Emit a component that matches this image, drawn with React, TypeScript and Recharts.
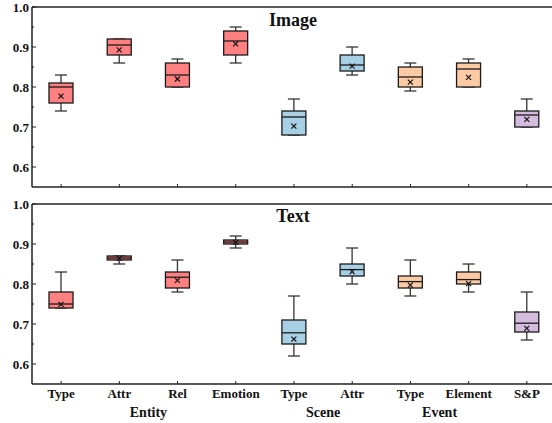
import React from 'react'
import { ComposedChart, Bar, XAxis, YAxis, ReferenceLine } from 'recharts'

const categories = ['Type', 'Attr', 'Rel', 'Emotion', 'Type', 'Attr', 'Type', 'Element', 'S&P']
const groupOf = ['Entity', 'Entity', 'Entity', 'Entity', 'Scene', 'Scene', 'Event', 'Event', 'SP']

// Image panel stats
const imgMin = [0.74, 0.86, 0.8, 0.86, 0.68, 0.83, 0.79, 0.8, 0.7]
const imgQ1 = [0.76, 0.88, 0.8, 0.88, 0.68, 0.84, 0.8, 0.8, 0.7]
const imgMed = [0.8, 0.905, 0.83, 0.915, 0.725, 0.855, 0.825, 0.845, 0.73]
const imgQ3 = [0.81, 0.92, 0.86, 0.94, 0.74, 0.88, 0.85, 0.86, 0.74]
const imgMax = [0.83, 0.92, 0.87, 0.95, 0.77, 0.9, 0.86, 0.87, 0.77]
const imgMean = [0.777, 0.893, 0.82, 0.908, 0.702, 0.852, 0.812, 0.824, 0.719]

// Text panel stats
const txtMin = [0.74, 0.85, 0.78, 0.89, 0.62, 0.8, 0.77, 0.78, 0.66]
const txtQ1 = [0.74, 0.86, 0.79, 0.9, 0.65, 0.82, 0.79, 0.8, 0.68]
const txtMed = [0.75, 0.865, 0.817, 0.905, 0.678, 0.836, 0.806, 0.811, 0.702]
const txtQ3 = [0.78, 0.87, 0.83, 0.91, 0.71, 0.85, 0.82, 0.83, 0.73]
const txtMax = [0.83, 0.87, 0.86, 0.92, 0.77, 0.89, 0.86, 0.85, 0.78]
const txtMean = [0.749, 0.864, 0.809, 0.904, 0.662, 0.831, 0.797, 0.801, 0.689]

const yTicks = [0.6, 0.65, 0.7, 0.75, 0.8, 0.85, 0.9, 0.95, 1.0]

const groupColors: Record<string, string> = {
  Entity: '#FF8080',
  Scene: '#A7D0E5',
  Event: '#FCCBA5',
  SP: '#D3BCDE',
}
const groupLabels = [
  { name: 'Entity', from: 0, to: 3 },
  { name: 'Scene', from: 4, to: 5 },
  { name: 'Event', from: 6, to: 7 },
]

const FONT = '"Liberation Serif", "Times New Roman", serif'
const AXIS = '#222'
const PLOT_LEFT = 32
const PLOT_W = 524
const BAND = PLOT_W / categories.length

const build = (mn: number[], q1: number[], md: number[], q3: number[], mx: number[], mean: number[]) =>
  categories.map((c, i) => ({
    key: `c${i}`,
    name: c,
    group: groupOf[i],
    min: mn[i],
    q1: q1[i],
    med: md[i],
    q3: q3[i],
    max: mx[i],
    mean: mean[i],
  }))

const imageData = build(imgMin, imgQ1, imgMed, imgQ3, imgMax, imgMean)
const textData = build(txtMin, txtQ1, txtMed, txtQ3, txtMax, txtMean)

const BoxShape = (props: any) => {
  const { x, y, width, height, payload } = props
  const top = Math.min(y, y + height)
  const h = Math.abs(height)
  const { min, q1, med, q3, max, mean, group } = payload
  const py = (v: number) => top + ((max - v) / (max - min)) * h
  const cx = x + width / 2
  const bw = 12
  const cw = 6
  const m = py(mean)
  return (
    <g>
      <line x1={cx} x2={cx} y1={py(max)} y2={py(q3)} stroke="#333" strokeWidth={1.3} />
      <line x1={cx} x2={cx} y1={py(q1)} y2={py(min)} stroke="#333" strokeWidth={1.3} />
      <line x1={cx - cw} x2={cx + cw} y1={py(max)} y2={py(max)} stroke="#333" strokeWidth={1.3} />
      <line x1={cx - cw} x2={cx + cw} y1={py(min)} y2={py(min)} stroke="#333" strokeWidth={1.3} />
      <rect
        x={cx - bw}
        y={py(q3)}
        width={bw * 2}
        height={Math.max(py(q1) - py(q3), 0.5)}
        fill={groupColors[group]}
        stroke="#1a1a1a"
        strokeWidth={1.3}
      />
      <line x1={cx - bw} x2={cx + bw} y1={py(med)} y2={py(med)} stroke="#1a1a1a" strokeWidth={1.3} />
      <line x1={cx - 2.5} x2={cx + 2.5} y1={m - 2.5} y2={m + 2.5} stroke="#111" strokeWidth={1.2} />
      <line x1={cx - 2.5} x2={cx + 2.5} y1={m + 2.5} y2={m - 2.5} stroke="#111" strokeWidth={1.2} />
    </g>
  )
}

const YTick = (props: any) => {
  const { x, y, payload } = props
  const v = payload.value
  const major = Math.round(v * 100) % 10 === 0
  return (
    <g>
      <line x1={x} x2={x + (major ? 4 : 2)} y1={y} y2={y} stroke={AXIS} strokeWidth={1} />
      {major && (
        <text x={x - 3} y={y} dy={4.5} textAnchor="end" fontFamily={FONT} fontWeight="bold" fontSize={13} fill="#111">
          {v.toFixed(1)}
        </text>
      )}
    </g>
  )
}

const makeXTick = (showLabel: boolean) => (props: any) => {
  const { x, y, index } = props
  return (
    <g>
      <line x1={x} x2={x} y1={y} y2={y - 3} stroke={AXIS} strokeWidth={1} />
      {showLabel && (
        <text x={x} y={y + 14} textAnchor="middle" fontFamily={FONT} fontWeight="bold" fontSize={13} fill="#111">
          {categories[index]}
        </text>
      )}
    </g>
  )
}

const Panel = ({ data, height, top, xHeight, showLabels }: any) => (
  <ComposedChart
    width={560}
    height={height}
    data={data}
    margin={{ top, right: 4, left: 0, bottom: 0 }}
  >
    <XAxis
      dataKey="key"
      height={xHeight}
      interval={0}
      tickSize={0}
      tickMargin={0}
      tickLine={false}
      axisLine={{ stroke: AXIS, strokeWidth: 1.5 }}
      tick={makeXTick(showLabels)}
    />
    <YAxis
      width={PLOT_LEFT}
      domain={[0.55, 1.0]}
      ticks={yTicks}
      interval={0}
      allowDataOverflow
      tickSize={0}
      tickMargin={0}
      tickLine={false}
      axisLine={{ stroke: AXIS, strokeWidth: 1.5 }}
      tick={<YTick />}
    />
    <ReferenceLine y={1.0} stroke={AXIS} strokeWidth={1.5} />
    <Bar
      dataKey={(d: any) => [d.min, d.max]}
      barSize={24}
      isAnimationActive={false}
      shape={(p: any) => <BoxShape {...p} />}
    />
  </ComposedChart>
)

export default function App() {
  const cxOf = (i: number) => PLOT_LEFT + (i + 0.5) * BAND
  return (
    <div
      style={{
        position: 'absolute',
        left: 0,
        top: 0,
        width: 552,
        height: 423,
        overflow: 'hidden',
        background: '#fff',
      }}
    >
      <div style={{ position: 'absolute', left: 0, top: 0 }}>
        <Panel data={imageData} height={200} top={7} xHeight={13} showLabels={false} />
      </div>
      <div style={{ position: 'absolute', left: 0, top: 196 }}>
        <Panel data={textData} height={227} top={8} xHeight={39} showLabels={true} />
      </div>
      <svg
        width={552}
        height={423}
        style={{ position: 'absolute', left: 0, top: 0, pointerEvents: 'none' }}
      >
        <text x={293} y={26} textAnchor="middle" fontFamily={FONT} fontWeight="bold" fontSize={18} fill="#111">
          Image
        </text>
        <text x={293} y={221.5} textAnchor="middle" fontFamily={FONT} fontWeight="bold" fontSize={18} fill="#111">
          Text
        </text>
        {groupLabels.map((g) => (
          <text
            key={g.name}
            x={(cxOf(g.from) + cxOf(g.to)) / 2}
            y={417}
            textAnchor="middle"
            fontFamily={FONT}
            fontWeight="bold"
            fontSize={14}
            fill="#111"
          >
            {g.name}
          </text>
        ))}
      </svg>
    </div>
  )
}
